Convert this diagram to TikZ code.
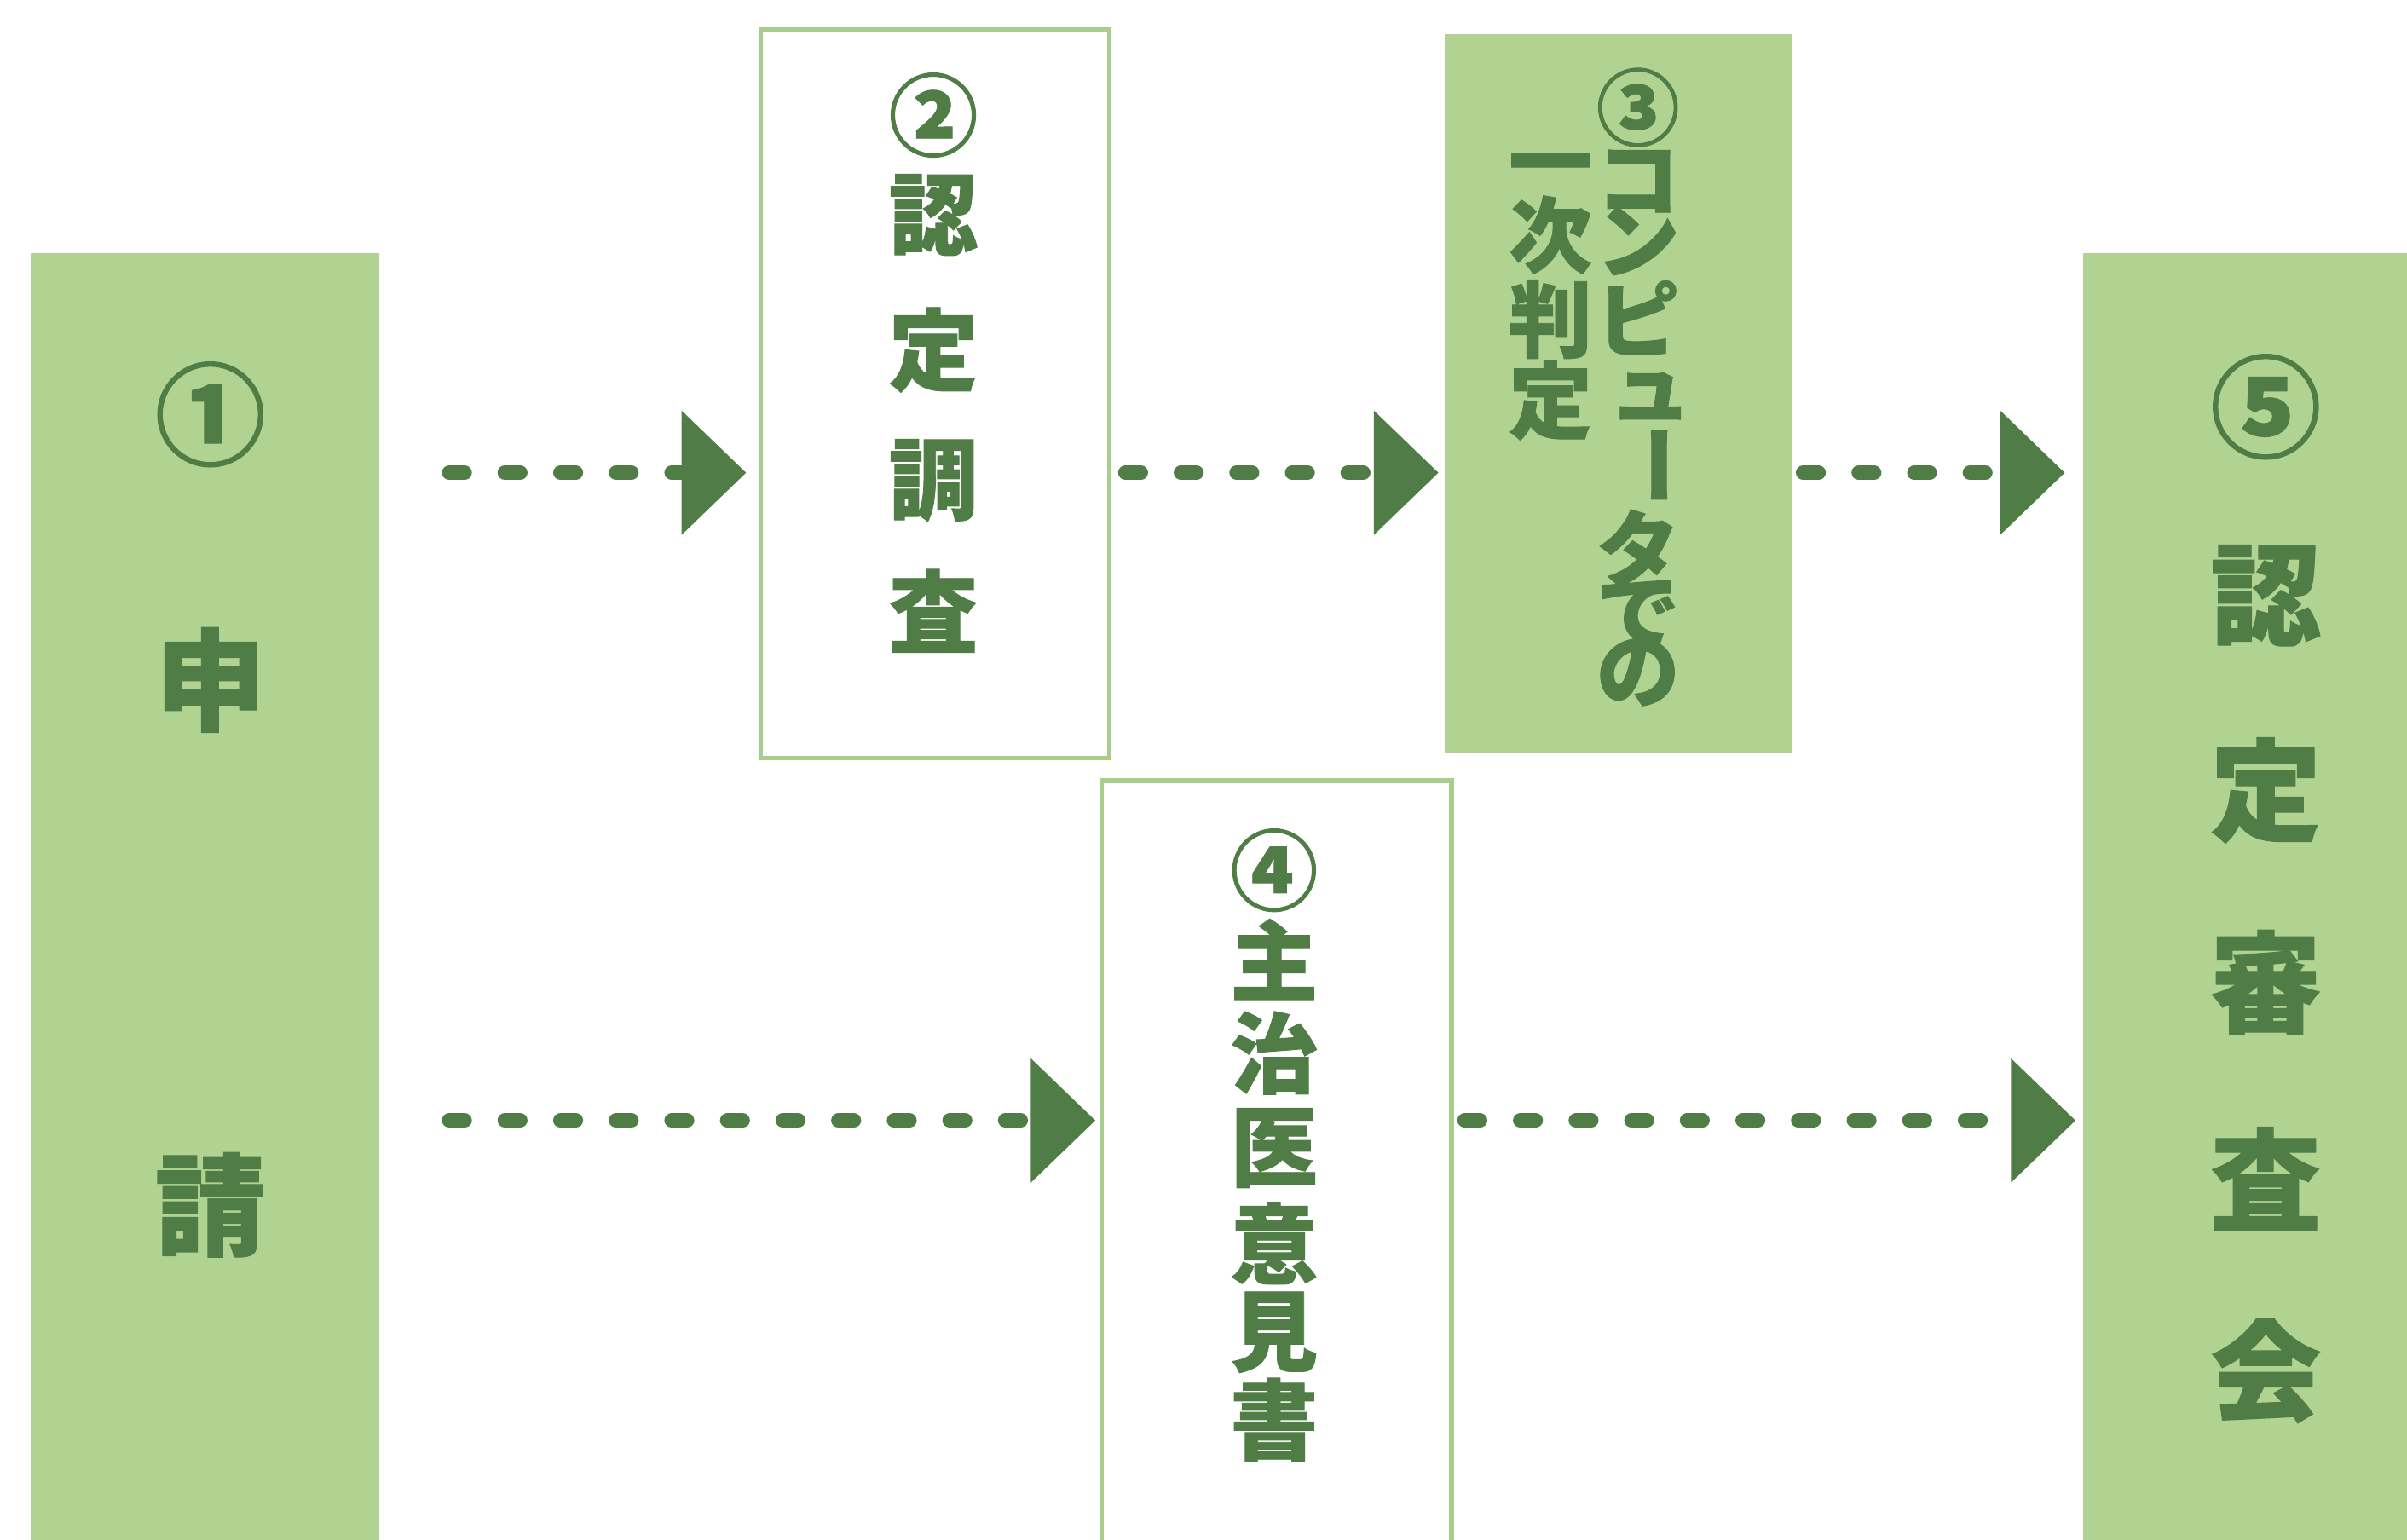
\documentclass[tikz,border=0pt]{standalone}
\usepackage{fontspec}
\newfontfamily\jp{Noto Sans CJK JP}[BoldFeatures={FakeBold=0.9}]
\usetikzlibrary{arrows.meta}
\definecolor{lg}{HTML}{B0D391}
\definecolor{dg}{HTML}{4F7D45}
\definecolor{lgline}{HTML}{A9CD8C}
\begin{document}
\begin{tikzpicture}[x=0.01cm,y=-0.01cm,
  fillbox/.style={fill=lg, draw=none, inner sep=0, outer sep=0, anchor=north west},
  linebox/.style={draw=lgline, line width=0.03cm, fill=white, inner sep=0, anchor=north west},
  flow/.style={dg, line width=0.095cm, line cap=round, dash pattern=on 0.1cm off 0.262cm,
    -{Triangle[length=0.42cm,width=0.81cm,line width=0pt]}},
  glyph/.style={text=dg, inner sep=0},
  tA/.style={glyph, font=\jp\bfseries\fontsize{20.5pt}{20.5pt}\selectfont},
  tB/.style={glyph, font=\jp\bfseries\fontsize{16.5pt}{16.5pt}\selectfont},
  tC/.style={glyph, font=\jp\bfseries\fontsize{15.4pt}{15.4pt}\selectfont},
  tD/.style={glyph, font=\jp\bfseries\fontsize{16.2pt}{16.2pt}\selectfont}
]
\useasboundingbox (0,0) rectangle (1568,1003);
\fill[white] (0,0) rectangle (1568,1003);

% boxes
\node[fillbox, minimum width=2.27cm, minimum height=8.5cm] (n1) at (20,165) {};
\node[linebox, minimum width=2.27cm, minimum height=4.74cm] (n2) at (494,18) {};
\node[fillbox, minimum width=2.26cm, minimum height=4.68cm] (n3) at (941,22) {};
\node[linebox, minimum width=2.28cm, minimum height=5.1cm] (n4) at (716,507) {};
\node[fillbox, minimum width=2.2cm, minimum height=8.5cm] (n5) at (1357,165) {};

% rows
\coordinate (r1) at (0,308);
\coordinate (r2) at (0,730);

% connectors
\draw[flow, shorten <=0.455cm, shorten >=0.08cm] (n1.east |- r1) -- (n2.west |- r1);
\draw[flow, shorten <=0.09cm, shorten >=0.04cm] (n2.east |- r1) -- (n3.west |- r1);
\draw[flow, shorten <=0.075cm, shorten >=0.12cm] (n3.east |- r1) -- (n5.west |- r1);
\draw[flow, shorten <=0.455cm, shorten >=0.025cm] (n1.east |- r2) -- (n4.west |- r2);
\draw[flow, shorten <=0.07cm, shorten >=0.05cm] (n4.east |- r2) -- (n5.west |- r2);

% texts
\foreach \c/\y [count=\i] in {①/270, 申/443, 請/785}
  \node[tA] (a\i) at (137,\y) {\c};
\foreach \c/\y [count=\i] in {②/75, 認/140, 定/228, 調/313, 査/398}
  \node[tB] (b\i) at (608,\y) {\c};
\foreach \c/\y [count=\i] in {③/70, コ/118, ン/157, ピ/207, タ/357, で/400, の/438}
  \node[tC] (c\i) at (1067,\y) {\c};
\node[tC] (cs) at (1075,258) {ュ};
\node[tC, rotate=-90] (cl) at (1073,303) {ー};
\foreach \c/\y [count=\i] in {一/113, 次/153, 判/208, 定/261}
  \node[tC] (d\i) at (1010,\y) {\c};
\foreach \c/\y [count=\i] in {④/567, 主/625, 治/686, 医/748, 意/810, 見/868, 書/925}
  \node[tD] (e\i) at (830,\y) {\c};
\foreach \c/\y [count=\i] in {⑤/265, 認/388, 定/515, 審/640, 査/768, 会/893}
  \node[tA] (f\i) at (1476,\y) {\c};
\end{tikzpicture}
\end{document}
